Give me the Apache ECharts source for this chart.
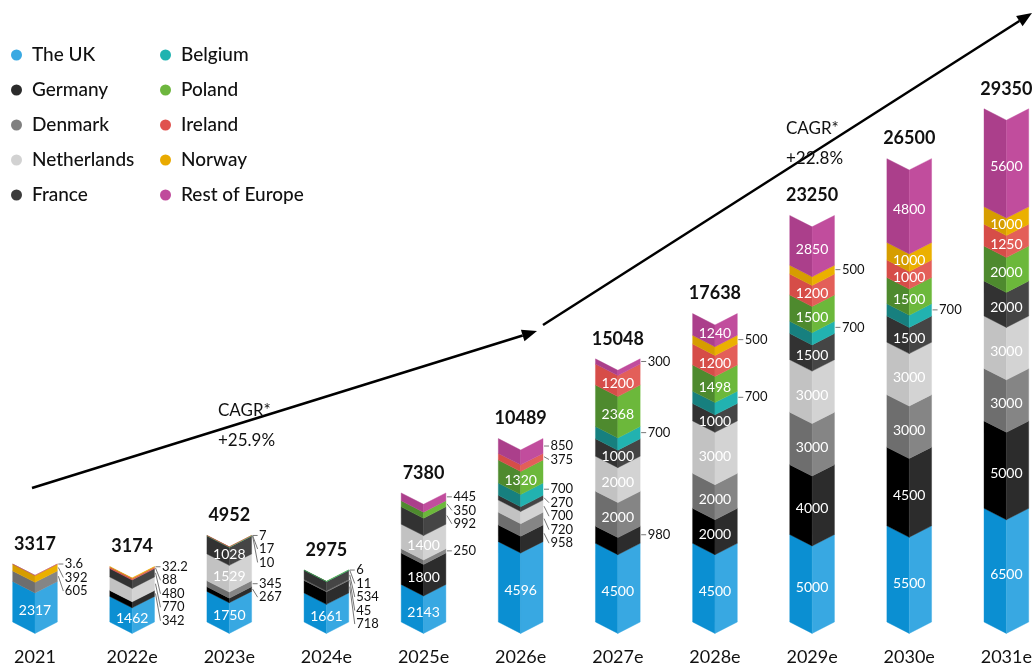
<!DOCTYPE html>
<html>
<head>
<meta charset="utf-8">
<script src="https://cdn.jsdelivr.net/npm/echarts@6/dist/echarts.min.js"></script>
<style>
  html, body { margin: 0; padding: 0; background: #ffffff; }
  #chart { width: 1035px; height: 668px; }
</style>
</head>
<body>
<div id="chart"></div>
<script>
// ---------- data ----------
const categories = ['2021', '2022e', '2023e', '2024e', '2025e', '2026e', '2027e', '2028e', '2029e', '2030e', '2031e'];
const theUK        = [2317, 1462, 1750, 1661, 2143, 4596, 4500, 4500, 5000, 5500, 6500];
const germany      = [0, 342, 267, 718, 1800, 958, 980, 2000, 4000, 4500, 5000];
const denmark      = [605, 0, 345, 45, 250, 720, 2000, 2000, 3000, 3000, 3000];
const netherlands  = [0, 770, 1529, 0, 1400, 700, 2000, 3000, 3000, 3000, 3000];
const france       = [0, 480, 1028, 534, 992, 270, 1000, 1000, 1500, 1500, 2000];
const belgium      = [0, 0, 10, 11, 0, 700, 700, 700, 700, 700, 0];
const poland       = [0, 0, 17, 6, 350, 1320, 2368, 1498, 1500, 1500, 2000];
const ireland      = [0, 88, 7, 0, 0, 375, 1200, 1200, 1200, 1000, 1250];
const norway       = [392, 32.2, 0, 0, 0, 0, 0, 500, 500, 1000, 1000];
const restOfEurope = [3.6, 0, 0, 0, 445, 850, 300, 1240, 2850, 4800, 5600];
const totalLabels  = ['3317', '3174', '4952', '2975', '7380', '10489', '15048', '17638', '23250', '26500', '29350'];
const cagrLabels   = [['CAGR*', '+25.9%'], ['CAGR*', '+22.8%']];

// ---------- styling ----------
const countries = [
  { name: 'The UK',         values: theUK,        left: '#0b8fd2', right: '#38a8e2', legend: '#3aa9e2' },
  { name: 'Germany',        values: germany,      left: '#000000', right: '#2c2c2c', legend: '#2b2b2b' },
  { name: 'Denmark',        values: denmark,      left: '#6e6e6e', right: '#858585', legend: '#808080' },
  { name: 'Netherlands',    values: netherlands,  left: '#c2c2c2', right: '#d3d3d3', legend: '#d2d2d2' },
  { name: 'France',         values: france,       left: '#323232', right: '#454545', legend: '#3c3c3c' },
  { name: 'Belgium',        values: belgium,      left: '#17807f', right: '#22b2b0', legend: '#20b3b0' },
  { name: 'Poland',         values: poland,       left: '#4e8a2e', right: '#6cb83b', legend: '#6db63e' },
  { name: 'Ireland',        values: ireland,      left: '#d64d48', right: '#e35f59', legend: '#e0524e' },
  { name: 'Norway',         values: norway,       left: '#d69d00', right: '#ebb000', legend: '#e9aa00' },
  { name: 'Rest of Europe', values: restOfEurope, left: '#ab3f8b', right: '#c14d9d', legend: '#c04b9c' }
];
const BAR_RATIO = 0.46;
const DEPTH_RATIO = 0.255;
const INSIDE_MIN = 1000;
const FONT = 'Lato, "Noto Sans", sans-serif';

function barGeom(api, i) {
  const step = api.coord([1, 0])[0] - api.coord([0, 0])[0];
  const bw = step * BAR_RATIO;
  const xc = api.coord([i, 0])[0];
  return { bw: bw, xc: xc, xl: xc - bw / 2, xr: xc + bw / 2, d: bw * DEPTH_RATIO };
}

function makeRender(c) {
  return function (params, api) {
    const i = api.value(0), s = api.value(1), e = api.value(2), v = api.value(3);
    if (!(v > 0)) return null;
    const g = barGeom(api, i);
    const yb = api.coord([i, s])[1];
    const yt = api.coord([i, e])[1];
    const children = [
      { type: 'polygon', shape: { points: [[g.xl, yt], [g.xc, yt + g.d], [g.xc, yb + g.d], [g.xl, yb]] },
        style: { fill: c.left, stroke: c.left, lineWidth: 0.4 } },
      { type: 'polygon', shape: { points: [[g.xc, yt + g.d], [g.xr, yt], [g.xr, yb], [g.xc, yb + g.d]] },
        style: { fill: c.right, stroke: c.right, lineWidth: 0.4 } }
    ];
    if (v >= INSIDE_MIN) {
      children.push({ type: 'text', style: {
        text: String(v), x: g.xc, y: (yt + yb) / 2 + g.d * 0.8,
        fill: '#ffffff', font: '14px ' + FONT, textAlign: 'center', textVerticalAlign: 'middle'
      } });
    }
    return { type: 'group', children: children };
  };
}

const series = countries.map(function (c) {
  const data = categories.map(function (cat, i) {
    let start = 0;
    for (let k = 0; k < countries.length; k++) {
      if (countries[k] === c) break;
      start += countries[k].values[i];
    }
    return [i, start, start + c.values[i], c.values[i]];
  });
  return {
    name: c.name, type: 'custom', coordinateSystem: 'cartesian2d',
    renderItem: makeRender(c), encode: { x: 0, y: [1, 2] },
    itemStyle: { color: c.legend }, data: data, clip: false, silent: true
  };
});

// labels series (totals + outside value labels)
series.push({
  name: 'labels', type: 'custom', coordinateSystem: 'cartesian2d', silent: true, clip: false, z: 10,
  encode: { x: 0, y: 1 },
  data: categories.map(function (c, i) { return [i, 0]; }),
  renderItem: function (params, api) {
    const i = api.value(0);
    const g = barGeom(api, i);
    const segs = [];
    let cum = 0;
    countries.forEach(function (c) {
      const v = c.values[i];
      if (v > 0) segs.push({ v: v, start: cum, end: cum + v });
      cum += v;
    });
    const children = [];
    const topY = api.coord([i, cum])[1];
    children.push({ type: 'text', style: {
      text: totalLabels[i], x: g.xc, y: topY - 20, fill: '#111111',
      font: 'bold 18px ' + FONT, textAlign: 'center', textVerticalAlign: 'middle'
    } });
    const outside = segs.filter(function (s) { return s.v < INSIDE_MIN; }).reverse();
    let prev = -Infinity;
    outside.forEach(function (s) {
      const mid = api.coord([i, (s.start + s.end) / 2])[1];
      const y = Math.max(mid, prev + 13.5);
      prev = y;
      children.push({ type: 'line', shape: { x1: g.xr + 1, y1: mid, x2: g.xr + 6, y2: y },
        style: { stroke: '#777777', lineWidth: 1 } });
      children.push({ type: 'text', style: {
        text: String(s.v), x: g.xr + 7.5, y: y, fill: '#111111',
        font: '13px ' + FONT, textAlign: 'left', textVerticalAlign: 'middle'
      } });
    });
    return { type: 'group', children: children };
  }
});

function arrow(x1, y1, x2, y2) {
  const ang = Math.atan2(y2 - y1, x2 - x1);
  const L = 15, W = 6;
  const bx = x2 - L * Math.cos(ang), by = y2 - L * Math.sin(ang);
  const nx = -Math.sin(ang), ny = Math.cos(ang);
  return [
    { type: 'line', shape: { x1: x1, y1: y1, x2: bx, y2: by }, style: { stroke: '#000', lineWidth: 2.5 } },
    { type: 'polygon', shape: { points: [[x2, y2], [bx + nx * W, by + ny * W], [bx - nx * W, by - ny * W]] }, style: { fill: '#000' } }
  ];
}

const legendCommon = {
  orient: 'vertical', padding: 0, itemWidth: 11, itemHeight: 11, itemGap: 15, icon: 'circle',
  textStyle: { color: '#111111', fontSize: 19, fontWeight: 500, fontFamily: FONT, lineHeight: 20, padding: [0, 0, 0, 5] },
  selectedMode: false
};

const option = {
  animation: false,
  backgroundColor: '#ffffff',
  grid: { left: 35, right: 27, top: 10, bottom: 46, containLabel: false },
  xAxis: {
    type: 'category', data: categories, boundaryGap: false,
    axisLine: { show: false }, axisTick: { show: false }, splitLine: { show: false },
    axisLabel: { interval: 0, margin: 26, color: '#111111', fontSize: 18, fontFamily: FONT }
  },
  yAxis: { type: 'value', min: 0, max: 35000, show: false },
  legend: [
    Object.assign({}, legendCommon, { left: 11, top: 45, data: countries.slice(0, 5).map(function (c) { return c.name; }) }),
    Object.assign({}, legendCommon, { left: 160, top: 45, data: countries.slice(5).map(function (c) { return c.name; }) })
  ],
  graphic: [].concat(
    arrow(32, 488, 537, 331),
    arrow(543, 325, 1032, 13),
    [
      { type: 'text', left: 218, top: 396, style: { text: cagrLabels[0].join('\n'), fill: '#111', font: '17px ' + FONT, lineHeight: 30 } },
      { type: 'text', left: 786, top: 114, style: { text: cagrLabels[1].join('\n'), fill: '#111', font: '17px ' + FONT, lineHeight: 30 } }
    ]
  ),
  series: series
};

const chart = echarts.init(document.getElementById('chart'), null, { renderer: 'canvas' });
chart.setOption(option);
</script>
</body>
</html>
